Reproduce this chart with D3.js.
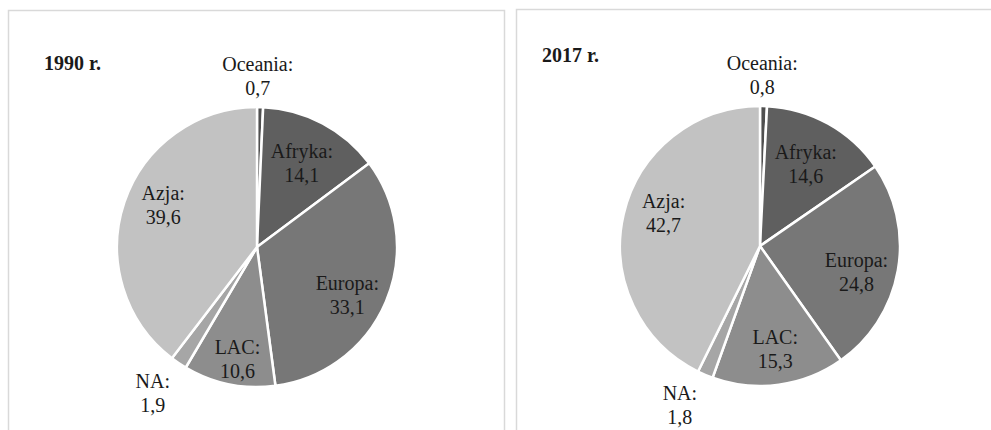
<!DOCTYPE html>
<html>
<head>
<meta charset="utf-8">
<script src="https://cdn.jsdelivr.net/npm/d3@7"></script>
<style>
  html, body { margin: 0; padding: 0; background: #fff; }
  svg { display: block; }
  text { font-family: "Liberation Serif", "Times New Roman", serif; fill: #1a1a1a; }
</style>
</head>
<body>
<svg id="chart" width="991" height="430"></svg>
<script>
// Regions, clockwise from 12 o'clock
const regions = ["Oceania", "Afryka", "Europa", "LAC", "NA", "Azja"];
// Shares (%) per year
const values1990 = [0.7, 14.1, 33.1, 10.6, 1.9, 39.6];
const values2017 = [0.8, 14.6, 24.8, 15.3, 1.8, 42.7];
const titles = ["1990 r.", "2017 r."];

// Grey fills per region
const fills = ["#4f4f4f", "#5f5f5f", "#777777", "#8d8d8d", "#a6a6a6", "#c2c2c2"];

// Label placement: radius factor (of pie radius) along the slice mid-angle, plus a nudge
const labelRadius = [1.215, 0.7, 0.7, 0.7, 1.28, 0.7];
const nudges = [
  [[-3, 0], [-1, 4], [0, 11], [0, 17], [-4, -2], [-1, -10]],
  [[-2, 0], [-2, 5], [0, 10], [2, 7], [-10, -5], [-1, -10]]
];

const panels = [
  { x: 8, y: 10, w: 496, h: 440, cx: 257, cy: 247, title: [44, 70] },
  { x: 516, y: 9, w: 490, h: 440, cx: 760, cy: 246, title: [542, 62] }
];
const R = 140;
const fontSize = 20, lineGap = 24;

const svg = d3.select("#chart");
const color = d3.scaleOrdinal().domain(regions).range(fills);
const pie = d3.pie().sort(null).value(d => d.value);
const arc = d3.arc().innerRadius(0).outerRadius(R);
const fmt = v => String(v).replace(".", ",");

[values1990, values2017].forEach((vals, i) => {
  const p = panels[i];
  const data = regions.map((r, k) => ({ region: r, value: vals[k] }));

  svg.append("rect")
    .attr("x", p.x + 0.5).attr("y", p.y + 0.5)
    .attr("width", p.w).attr("height", p.h)
    .attr("fill", "#fff").attr("stroke", "#d9d9d9").attr("stroke-width", 1.5);

  svg.append("text")
    .attr("x", p.title[0]).attr("y", p.title[1])
    .attr("font-size", fontSize).attr("font-weight", "bold")
    .text(titles[i]);

  const g = svg.append("g").attr("transform", `translate(${p.cx},${p.cy})`);
  const arcs = pie(data);

  g.selectAll("path").data(arcs).join("path")
    .attr("d", arc)
    .attr("fill", d => color(d.data.region))
    .attr("stroke", "#fff").attr("stroke-width", 2.5).attr("stroke-linejoin", "round");

  const labels = g.selectAll("g.lbl").data(arcs).join("g").attr("class", "lbl")
    .attr("transform", (d, k) => {
      const a = (d.startAngle + d.endAngle) / 2;
      const r = labelRadius[k] * R;
      const x = Math.sin(a) * r + nudges[i][k][0];
      const y = -Math.cos(a) * r + nudges[i][k][1];
      return `translate(${x},${y})`;
    });

  labels.append("text")
    .attr("text-anchor", "middle").attr("font-size", fontSize)
    .attr("y", -6)
    .text(d => d.data.region + ":");
  labels.append("text")
    .attr("text-anchor", "middle").attr("font-size", fontSize)
    .attr("y", -6 + lineGap)
    .text(d => fmt(d.data.value));
});
</script>
</body>
</html>
